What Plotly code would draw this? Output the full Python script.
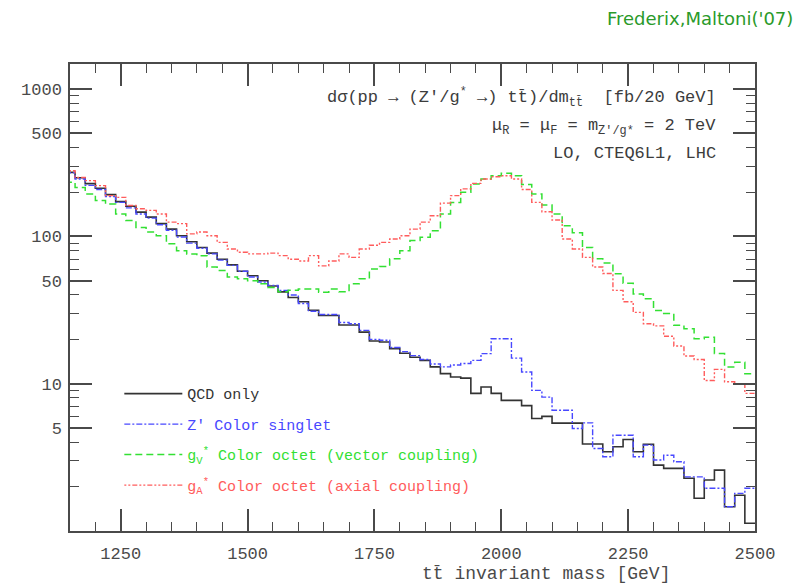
import numpy as np
import plotly.graph_objects as go

# ---- data (20 GeV bins, lower edges from 1140 GeV) ----
bin_start = 1140
bin_width = 20
qcd_only = [272, 250, 228, 212, 192, 172, 160, 146, 135, 122, 112, 101, 92, 84, 77, 70, 64, 58, 54, 50,
            46, 42, 38.5, 36, 31.5, 29, 29, 25, 25, 22.4, 19.5, 19.2, 17.3, 16.1, 15.1, 14.4, 13.0, 11.7, 11.1, 10.9,
            8.6, 9.5, 8.6, 7.7, 7.7, 7.1, 5.8, 6.0, 5.4, 5.4, 5.4, 3.9, 3.9, 3.45, 3.73, 4.18, 3.45, 3.88, 2.8, 2.66,
            2.66, 2.28, 1.67, 2.22, 2.59, 1.46, 1.75, 1.13]
zprime_singlet = [270, 245, 222, 208, 186, 170, 156, 142, 133, 120, 110, 99, 90, 83, 76, 69, 63.5, 58, 53, 49,
                  46.5, 43, 40, 35, 31, 29.5, 29.5, 26, 25.5, 23, 20, 19.7, 17.6, 16.5, 15.5, 14.6, 13.6, 13.0, 13.4, 13.7,
                  14.4, 16.0, 20.2, 20.2, 14.9, 12.0, 9.0, 8.1, 6.6, 6.6, 4.96, 5.42, 3.63, 3.19, 4.47, 4.47, 3.19, 3.83, 3.03, 3.27,
                  2.95, 2.33, 2.33, 1.95, 1.95, 1.46, 1.80, 1.95]
octet_vector = [233, 215, 194, 175, 166, 142, 128, 115, 107, 101, 89, 80, 76, 74, 62, 58.6, 53, 51.5, 50, 47.6,
                45, 42, 43, 44, 44, 41.8, 44, 42, 47.6, 51.5, 60, 62.5, 70.4, 80, 93.6, 98.6, 109, 142, 170, 199,
                227, 245, 258, 268, 258, 225, 194, 163, 142, 118, 106, 84, 70.4, 66, 55.7, 48, 40.7, 37.7, 31.4, 30,
                24.9, 23.6, 20.2, 20.7, 16.0, 13.0, 14.0, 11.7]
octet_axial = [279, 251, 239, 221, 189, 184, 162, 154, 150, 142, 125, 122, 104, 107, 101, 91, 82, 78, 76, 76,
               77, 74, 70, 68, 74, 63, 68, 76, 72, 82, 87, 91, 96, 101, 112, 125, 138, 168, 189, 210,
               229, 245, 254, 258, 245, 208, 170, 147, 129, 96, 82, 72, 62, 56, 43, 36, 30.5, 25.5, 24.7, 21,
               18, 15.4, 14.6, 10.5, 12.5, 10.3, 10, 8.6]

x_ticks = [1250, 1500, 1750, 2000, 2250, 2500]
y_ticks = [5, 10, 50, 100, 500, 1000]
y_minor = [2, 3, 4, 6, 7, 8, 9, 20, 30, 40, 60, 70, 80, 90, 200, 300, 400, 600, 700, 800, 900]

edges = bin_start + bin_width * np.arange(len(qcd_only) + 1)

def step(vals):
    return list(vals) + [vals[-1]]

MONO = "Liberation Mono"
AX = "#4a4a4a"

series = [
    ("QCD only", qcd_only, "#333333", "solid", 1.6),
    ("Z' Color singlet", zprime_singlet, "#4848ff", "6px,2px,2px,2px", 1.4),
    ("g<sub>V</sub><sup>*</sup> Color octet (vector coupling)", octet_vector, "#33e033", "7px,4px", 1.5),
    ("g<sub>A</sub><sup>*</sup> Color octet (axial coupling)", octet_axial, "#ff5c5c", "2px,2px,2px,2px,5px,2px", 1.4),
]

fig = go.Figure()
for i, (name, vals, col, dash, w) in enumerate(series):
    fig.add_trace(go.Scatter(
        x=edges, y=step(vals), mode="lines", line_shape="hv",
        line=dict(color=col, dash=dash, width=w),
        name=f"<span style='color:{col}'>{name}</span>",
        legendgroup=f"g{i}",
    ))

fig.update_layout(
    width=801, height=587,
    margin=dict(l=70, r=46, t=64, b=56, autoexpand=False),
    paper_bgcolor="white", plot_bgcolor="white",
    font=dict(family=MONO, color=AX),
    legend=dict(x=0.072, y=0.329, xanchor="left", yanchor="top", bgcolor="rgba(0,0,0,0)",
                font=dict(family=MONO, size=15), tracegroupgap=8, itemwidth=58),
    showlegend=True,
)

fig.update_xaxes(
    range=[1150, 2500], showgrid=False, zeroline=False, automargin=False,
    showline=True, linecolor=AX, linewidth=1.5, mirror="allticks",
    ticks="inside", ticklen=22, tickwidth=1.5, tickcolor=AX,
    tickvals=x_ticks, ticktext=[str(v) for v in x_ticks],
    minor=dict(dtick=50, tick0=0, ticks="inside", ticklen=9, tickwidth=1.2, tickcolor=AX),
    tickfont=dict(family=MONO, size=17, color=AX), ticklabelstandoff=6,
)
fig.update_yaxes(
    type="log", range=[0, 3.17], showgrid=False, zeroline=False, automargin=False,
    showline=True, linecolor=AX, linewidth=1.5, mirror="allticks",
    ticks="inside", ticklen=22, tickwidth=1.5, tickcolor=AX,
    tickvals=y_ticks, ticktext=[str(v) for v in y_ticks],
    minor=dict(tickvals=y_minor, ticks="inside", ticklen=9, tickwidth=1.2, tickcolor=AX),
    tickfont=dict(family=MONO, size=17, color=AX), ticklabelstandoff=3,
)

ann_font = dict(family=MONO, size=17, color="#3c3c3c")
fig.add_annotation(x=0.946, y=0.928, xref="paper", yref="paper", xanchor="right", yanchor="middle",
                   showarrow=False, font=ann_font,
                   text="dσ(pp → (Z'/g<sup>*</sup> →) tt̄)/dm<sub>tt̄</sub>  [fb/20 GeV]")
fig.add_annotation(x=0.946, y=0.865, xref="paper", yref="paper", xanchor="right", yanchor="middle",
                   showarrow=False, font=ann_font,
                   text="μ<sub>R</sub> = μ<sub>F</sub> = m<sub>Z'/g*</sub> = 2 TeV")
fig.add_annotation(x=0.946, y=0.809, xref="paper", yref="paper", xanchor="right", yanchor="middle",
                   showarrow=False, font=ann_font, text="LO, CTEQ6L1, LHC")
fig.add_annotation(x=0.879, y=-0.092, xref="paper", yref="paper", xanchor="right", yanchor="middle",
                   showarrow=False, font=dict(family=MONO, size=18, color=AX),
                   text="tt̄ invariant mass [GeV]")
fig.add_annotation(x=1.058, y=1.098, xref="paper", yref="paper", xanchor="right", yanchor="middle",
                   showarrow=False, font=dict(family="DejaVu Sans", size=18, color="#2a9a2a"),
                   text="Frederix,Maltoni('07)")

fig.write_html("out.html", config={"displayModeBar": False},
               post_script="document.body.style.margin='0px';document.body.style.overflow='hidden';")
